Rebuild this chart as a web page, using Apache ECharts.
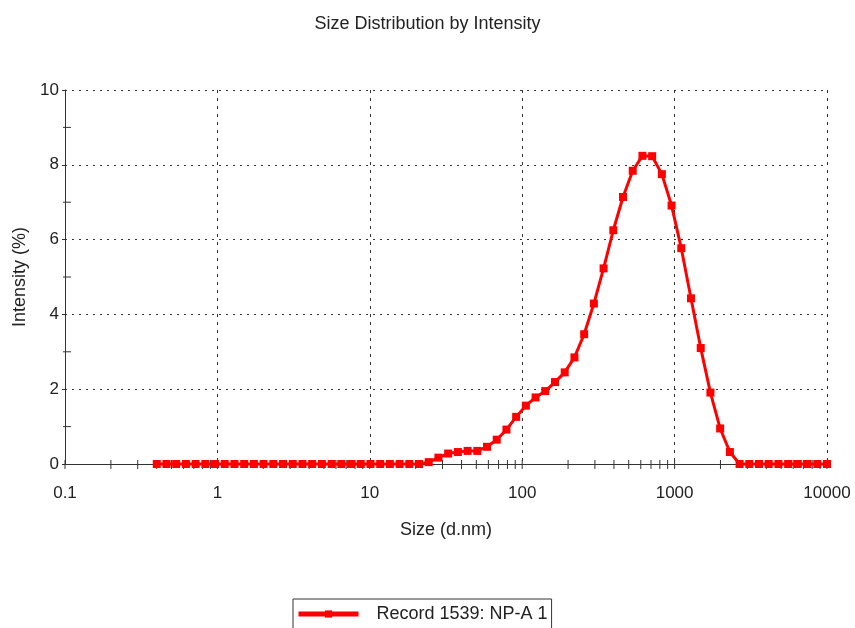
<!DOCTYPE html>
<html>
<head>
    <meta charset="utf-8">
    <title>Size Distribution by Intensity</title>
    <script src="https://cdn.jsdelivr.net/npm/echarts@6/dist/echarts.min.js"></script>
    <style>
        body { margin: 0; background: #fff; }
        #container { width: 855px; height: 628px; }
    </style>
</head>
<body>
    <div id="container"></div>
<script type="text/javascript">
    // size bins (d.nm)
    var sizes = [0.4, 0.4632, 0.5365, 0.6213, 0.7195, 0.8332, 0.9649, 1.117, 1.294, 1.499,
        1.736, 2.01, 2.328, 2.696, 3.122, 3.615, 4.187, 4.849, 5.615, 6.503,
        7.531, 8.721, 10.1, 11.7, 13.54, 15.69, 18.17, 21.04, 24.36, 28.21,
        32.67, 37.84, 43.82, 50.75, 58.77, 68.06, 78.82, 91.28, 105.7, 122.4,
        141.8, 164.2, 190.1, 220.2, 255, 295.3, 342, 396.1, 458.7, 531.2,
        615.1, 712.4, 825, 955.4, 1106, 1281, 1484, 1718, 1990, 2305,
        2669, 3091, 3580, 4145, 4801, 5560, 6439, 7456, 8635, 10000];
    // intensity (%)
    var intensity = [0, 0, 0, 0, 0, 0, 0, 0, 0, 0,
        0, 0, 0, 0, 0, 0, 0, 0, 0, 0,
        0, 0, 0, 0, 0, 0, 0, 0, 0.05, 0.17,
        0.28, 0.32, 0.35, 0.35, 0.46, 0.65, 0.92, 1.26, 1.56, 1.78,
        1.95, 2.19, 2.45, 2.85, 3.47, 4.29, 5.23, 6.25, 7.14, 7.84,
        8.24, 8.23, 7.75, 6.91, 5.77, 4.43, 3.10, 1.91, 0.95, 0.32,
        0, 0, 0, 0, 0, 0, 0, 0, 0, 0];
    var xTicks = [0.1, 0.2, 0.3, 0.4, 0.5, 0.6, 0.7, 0.8, 0.9,
        1, 2, 3, 4, 5, 6, 7, 8, 9,
        10, 20, 30, 40, 50, 60, 70, 80, 90,
        100, 200, 300, 400, 500, 600, 700, 800, 900,
        1000, 2000, 3000, 4000, 5000, 6000, 7000, 8000, 9000, 10000];
    var yMinorTicks = [1, 3, 5, 7, 9];
    var seriesName = 'Record 1539: NP-A 1';

    var font = '"Liberation Sans", Arial, sans-serif';
    var myChart = echarts.init(document.getElementById('container'));

    var points = sizes.map(function (s, i) { return [s, intensity[i]]; });

    var option = {
        animation: false,
        title: {
            text: 'Size Distribution by Intensity',
            left: 'center',
            top: 10,
            textStyle: { fontFamily: font, fontSize: 18, fontWeight: 'normal', color: '#222' }
        },
        legend: {
            data: [seriesName],
            left: 293,
            top: 599,
            orient: 'horizontal',
            borderColor: '#333',
            borderWidth: 1,
            borderRadius: 0,
            padding: [6, 4, 20, 3],
            itemWidth: 60,
            itemHeight: 9,
            lineStyle: { width: 5 },
            textStyle: { fontFamily: font, fontSize: 18, color: '#222', padding: [0, 0, 0, 13] }
        },
        grid: {
            left: 65,
            right: 28,
            top: 90,
            bottom: 164,
            containLabel: false,
            outerBoundsMode: 'none'
        },
        xAxis: {
            type: 'log',
            logBase: 10,
            min: 0.1,
            max: 10000,
            name: 'Size (d.nm)',
            nameLocation: 'middle',
            nameGap: 57,
            nameTextStyle: { fontFamily: font, fontSize: 18, color: '#222' },
            axisLine: { lineStyle: { color: '#333', width: 1 } },
            axisTick: { show: false },
            axisLabel: {
                fontFamily: font, fontSize: 17, color: '#222', margin: 21,
                formatter: function (v) { return String(v); }
            },
            splitLine: { show: true, lineStyle: { color: '#333', type: [3, 5], width: 1 } }
        },
        yAxis: {
            type: 'value',
            min: 0,
            max: 10,
            interval: 2,
            name: 'Intensity (%)',
            nameLocation: 'middle',
            nameGap: 35,
            nameTextStyle: { fontFamily: font, fontSize: 18, color: '#222' },
            axisLine: { show: true, lineStyle: { color: '#333', width: 1 } },
            axisTick: { show: true, length: 3, lineStyle: { color: '#333' } },
            axisLabel: { fontFamily: font, fontSize: 17, color: '#222', margin: 6 },
            splitLine: { show: true, lineStyle: { color: '#333', type: [2, 5], width: 1 } }
        },
        series: [
            {
                name: 'ticks-x',
                type: 'custom',
                silent: true,
                clip: false,
                data: xTicks.map(function (v) { return [v, 0]; }),
                renderItem: function (params, api) {
                    var p = api.coord([api.value(0), 0]);
                    return {
                        type: 'line',
                        shape: { x1: p[0], y1: p[1] - 4, x2: p[0], y2: p[1] + 5 },
                        style: { stroke: '#333', lineWidth: 1 }
                    };
                },
                z: 1
            },
            {
                name: 'ticks-y',
                type: 'custom',
                silent: true,
                clip: false,
                data: yMinorTicks.map(function (v) { return [0.1, v]; }),
                renderItem: function (params, api) {
                    var p = api.coord([0.1, api.value(1)]);
                    return {
                        type: 'line',
                        shape: { x1: p[0] - 2, y1: p[1], x2: p[0] + 6, y2: p[1] },
                        style: { stroke: '#333', lineWidth: 1 }
                    };
                },
                z: 1
            },
            {
                name: seriesName,
                type: 'line',
                data: points,
                clip: false,
                symbol: 'rect',
                symbolSize: 8,
                showAllSymbol: true,
                lineStyle: { color: '#ff0000', width: 3 },
                itemStyle: { color: '#ff0000', borderWidth: 0 },
                z: 3
            }
        ]
    };
    myChart.setOption(option);
</script>
</body>
</html>
